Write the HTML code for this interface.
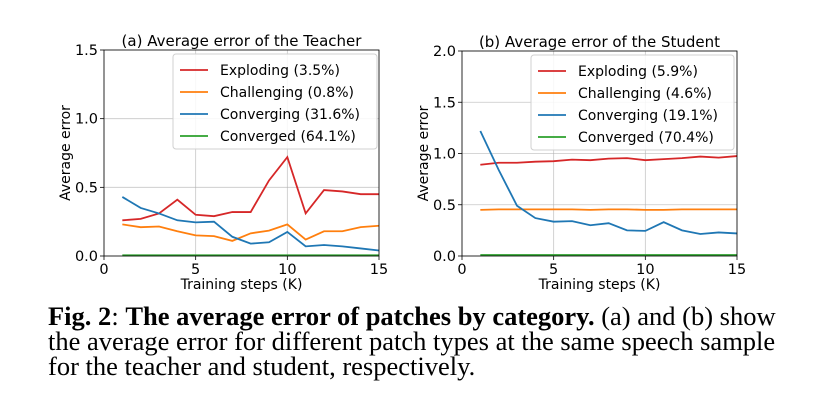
<!DOCTYPE html>
<html><head><meta charset="utf-8"><style>
body{margin:0;background:#fff;width:822px;height:418px;overflow:hidden;position:relative}
svg{position:absolute;left:0;top:0}
#cap{position:absolute;left:48px;top:304px;width:790px;font-family:"Liberation Serif",serif;font-size:26.5px;line-height:25px;color:#000;white-space:nowrap}
</style></head><body>
<svg id="chart" width="822" height="300"></svg>
<div id="cap"><b>Fig. 2</b>: <b>The average error of patches by category.</b> (a) and (b) show<br>the average error for different patch types at the same speech sample<br>for the teacher and student, respectively.</div>
<script>
const steps=[1,2,3,4,5,6,7,8,9,10,11,12,13,14,15];
const seriesNames=["Exploding","Challenging","Converging","Converged"];
const teacherPct=["3.5%","0.8%","31.6%","64.1%"];
const studentPct=["5.9%","4.6%","19.1%","70.4%"];
const tExploding=[0.26,0.27,0.31,0.41,0.30,0.29,0.32,0.32,0.55,0.72,0.31,0.48,0.47,0.45,0.45];
const tChallenging=[0.23,0.21,0.215,0.18,0.15,0.145,0.11,0.165,0.185,0.23,0.12,0.18,0.18,0.21,0.22];
const tConverging=[0.43,0.35,0.31,0.26,0.245,0.25,0.14,0.09,0.10,0.175,0.07,0.08,0.07,0.055,0.04];
const tConverged=[0.005,0.005,0.005,0.005,0.005,0.005,0.005,0.005,0.005,0.005,0.005,0.005,0.005,0.005,0.005];
const sExploding=[0.89,0.91,0.91,0.92,0.925,0.94,0.935,0.95,0.955,0.935,0.945,0.955,0.97,0.96,0.975];
const sChallenging=[0.45,0.455,0.455,0.455,0.455,0.455,0.45,0.455,0.455,0.45,0.45,0.455,0.455,0.455,0.455];
const sConverging=[1.22,0.84,0.49,0.37,0.335,0.34,0.30,0.32,0.25,0.245,0.33,0.25,0.215,0.23,0.22];
const sConverged=[0.01,0.01,0.01,0.01,0.01,0.01,0.01,0.01,0.01,0.01,0.01,0.01,0.01,0.01,0.01];
const xTicks=[0,5,10,15];
const tYTicks=[0,0.5,1.0,1.5];
const sYTicks=[0,0.5,1.0,1.5,2.0];
const colors=["#d62728","#ff7f0e","#1f77b4","#2ca02c"];
const NS="http://www.w3.org/2000/svg";
const svg=document.getElementById('chart');
function mk(tag,attrs,parent,text){const e=document.createElementNS(NS,tag);for(const k in attrs)e.setAttribute(k,attrs[k]);if(text!==undefined)e.textContent=text;parent.appendChild(e);return e;}
function panel(id,x0,x1,y0,y1,ymax,yTicks,title,series,pcts,legX,legW){
  const g=mk('g',{},svg);
  
  
  const xs=v=>x0+(x1-x0)*v/15, ys=v=>y0-(y0-y1)*v/ymax;
  const F='font-family:"DejaVu Sans","Liberation Sans",sans-serif;';
  xTicks.forEach(t=>{mk('line',{x1:xs(t),x2:xs(t),y1:y1,y2:y0,stroke:'#b0b0b0','stroke-width':0.8,opacity:0.7},g);
    mk('line',{x1:xs(t),x2:xs(t),y1:y0,y2:y0+4,stroke:'#000','stroke-width':0.8},g);
    const tx=mk('text',{x:xs(t),y:y0+18,'text-anchor':'middle',style:F+'font-size:14.5px'},g,String(t));
    });
  yTicks.forEach(t=>{mk('line',{x1:x0,x2:x1,y1:ys(t),y2:ys(t),stroke:'#b0b0b0','stroke-width':0.8,opacity:0.7},g);
    mk('line',{x1:x0-4,x2:x0,y1:ys(t),y2:ys(t),stroke:'#000','stroke-width':0.8},g);
    const tx=mk('text',{x:x0-6,y:ys(t)+5,'text-anchor':'end',style:F+'font-size:14.5px'},g,t.toFixed(1));
    });
  series.forEach((s,i)=>{const p=mk('polyline',{points:steps.map((st,j)=>xs(st)+','+ys(s[j])).join(' '),fill:'none',stroke:colors[i],'stroke-width':1.8},g);
    });
  mk('rect',{x:x0,y:y1,width:x1-x0,height:y0-y1,fill:'none',stroke:'#000','stroke-width':0.8},g);
  const tt=mk('text',{x:(x0+x1)/2,y:y1-4,'text-anchor':'middle',style:F+'font-size:15px'},g,title);
  
  const xl=mk('text',{x:(x0+x1)/2,y:y0+33,'text-anchor':'middle',style:F+'font-size:14px'},g,'Training steps (K)');
  
  const yl=mk('text',{x:0,y:0,'text-anchor':'middle',transform:`translate(${x0-34},${(y0+y1)/2}) rotate(-90)`,style:F+'font-size:14px'},g,'Average error');
  
  const lg=mk('g',{},g);
  
  mk('rect',{x:legX,y:y1+4,width:legW,height:95,rx:3,fill:'#fff','fill-opacity':0.85,stroke:'#d0d0d0','stroke-width':1},lg);
  seriesNames.forEach((n,i)=>{const yy=y1+20+i*22;
    mk('line',{x1:legX+7,x2:legX+35,y1:yy,y2:yy,stroke:colors[i],'stroke-width':1.8},lg);
    const e=mk('text',{x:legX+47,y:yy+5,style:F+'font-size:14px'},lg,n+' ('+pcts[i]+')');
    });
}
panel('teacher',104,379,256,50,1.5,tYTicks,'(a) Average error of the Teacher',[tExploding,tChallenging,tConverging,tConverged],teacherPct,173,204);
panel('student',462,737,256,51,2.0,sYTicks,'(b) Average error of the Student',[sExploding,sChallenging,sConverging,sConverged],studentPct,531,203);
</script>
</body></html>
